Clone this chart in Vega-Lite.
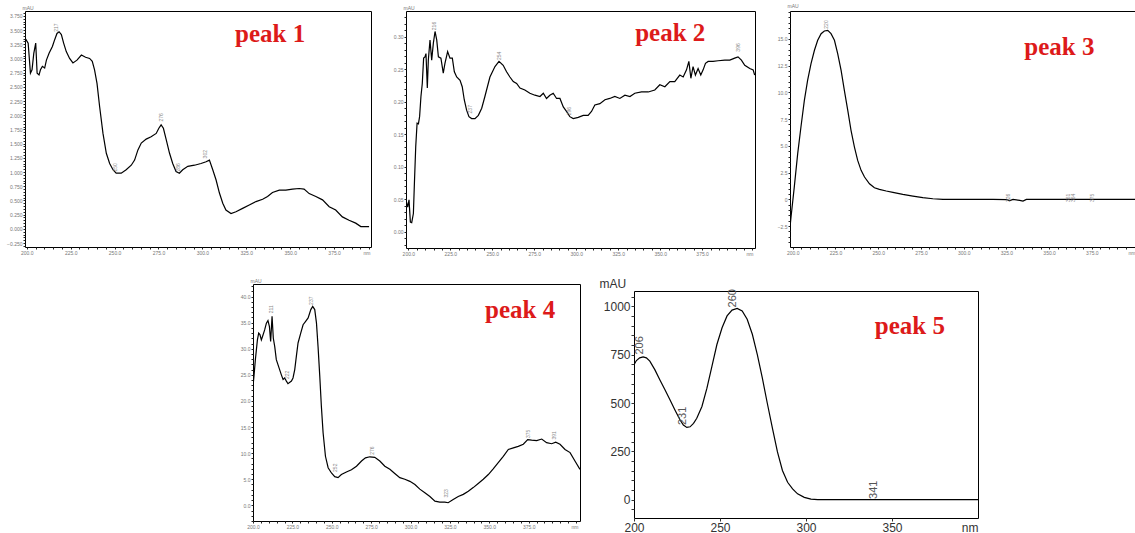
{
  "$schema": "https://vega.github.io/schema/vega-lite/v6.json",
  "background": "white",
  "padding": {"left": 6, "top": 2, "right": 0, "bottom": 0},
  "config": {
    "view": {"stroke": "black", "strokeWidth": 1},
    "axis": {"domain": false, "grid": false, "tickColor": "#222", "labelColor": "#777", "titleColor": "#777", "labelFont": "Liberation Sans", "titleFont": "Liberation Sans", "titleFontWeight": "normal", "labelOverlap": false, "labelBound": false, "labelFlush": false, "labelFontSize": 5, "titleFontSize": 5, "tickSize": 2, "labelPadding": 1}
  },
  "datasets": {
    "p1": [
      {"nm":199.4,"v":3.34},{"nm":200.8,"v":3.27},{"nm":202.1,"v":2.74},{"nm":203,"v":2.8},{"nm":204,"v":3.09},{"nm":205.1,"v":3.27},{"nm":205.9,"v":2.74},{"nm":207,"v":2.71},{"nm":207.8,"v":2.8},{"nm":208.9,"v":2.86},{"nm":210.2,"v":2.83},{"nm":211.2,"v":2.97},{"nm":212.7,"v":3.09},{"nm":214.6,"v":3.21},{"nm":215.9,"v":3.33},{"nm":217.2,"v":3.44},{"nm":218.4,"v":3.47},{"nm":219.7,"v":3.42},{"nm":221,"v":3.27},{"nm":222.5,"v":3.12},{"nm":224.4,"v":3.0},{"nm":226.3,"v":2.92},{"nm":228.6,"v":2.97},{"nm":231.1,"v":3.06},{"nm":233.5,"v":3.02},{"nm":235.8,"v":3.0},{"nm":237.3,"v":2.95},{"nm":238.6,"v":2.8},{"nm":240,"v":2.56},{"nm":241.5,"v":2.15},{"nm":243.4,"v":1.68},{"nm":245.3,"v":1.33},{"nm":247.2,"v":1.15},{"nm":249.1,"v":1.04},{"nm":250.9,"v":0.98},{"nm":253.8,"v":0.98},{"nm":256.6,"v":1.04},{"nm":259.5,"v":1.12},{"nm":261.4,"v":1.21},{"nm":263.3,"v":1.39},{"nm":265.2,"v":1.51},{"nm":268,"v":1.58},{"nm":270.8,"v":1.62},{"nm":273.7,"v":1.68},{"nm":275.2,"v":1.77},{"nm":276.5,"v":1.83},{"nm":277.8,"v":1.77},{"nm":279.4,"v":1.57},{"nm":281.3,"v":1.33},{"nm":283.1,"v":1.15},{"nm":285,"v":1.01},{"nm":286.9,"v":0.98},{"nm":288.8,"v":1.04},{"nm":291.7,"v":1.1},{"nm":295.5,"v":1.12},{"nm":299.2,"v":1.15},{"nm":302.1,"v":1.18},{"nm":304,"v":1.21},{"nm":305.9,"v":1.04},{"nm":307.8,"v":0.86},{"nm":309.7,"v":0.63},{"nm":311.6,"v":0.45},{"nm":313.4,"v":0.33},{"nm":316.3,"v":0.27},{"nm":319.1,"v":0.3},{"nm":322.9,"v":0.36},{"nm":326.7,"v":0.42},{"nm":330.5,"v":0.48},{"nm":334.3,"v":0.52},{"nm":337.1,"v":0.57},{"nm":339.9,"v":0.64},{"nm":343.8,"v":0.68},{"nm":347.5,"v":0.68},{"nm":351.3,"v":0.7},{"nm":355.1,"v":0.71},{"nm":357.9,"v":0.7},{"nm":360.8,"v":0.62},{"nm":364.6,"v":0.57},{"nm":368.4,"v":0.51},{"nm":372.2,"v":0.39},{"nm":375.9,"v":0.33},{"nm":379.7,"v":0.21},{"nm":383.5,"v":0.15},{"nm":387.3,"v":0.1},{"nm":390.2,"v":0.04},{"nm":394.9,"v":0.04}
    ],
    "a1": [{"nm":216.9,"v":3.47,"lab":"217"},{"nm":250.4,"v":1.01,"lab":"250"},{"nm":276.2,"v":1.89,"lab":"276"},{"nm":286.0,"v":1.01,"lab":"286"},{"nm":301.7,"v":1.24,"lab":"302"}],
    "p2": [
      {"nm":198.6,"v":0.049},{"nm":199.6,"v":0.038},{"nm":200.4,"v":0.049},{"nm":201.2,"v":0.015},{"nm":202,"v":0.014},{"nm":203,"v":0.028},{"nm":203.6,"v":0.074},{"nm":204.4,"v":0.131},{"nm":205.2,"v":0.167},{"nm":206,"v":0.166},{"nm":206.7,"v":0.177},{"nm":207.5,"v":0.208},{"nm":208.3,"v":0.228},{"nm":209.1,"v":0.267},{"nm":209.9,"v":0.269},{"nm":210.5,"v":0.274},{"nm":211.3,"v":0.221},{"nm":211.9,"v":0.264},{"nm":212.9,"v":0.295},{"nm":213.9,"v":0.264},{"nm":214.9,"v":0.29},{"nm":215.9,"v":0.308},{"nm":216.9,"v":0.295},{"nm":217.9,"v":0.269},{"nm":219.4,"v":0.267},{"nm":220.8,"v":0.244},{"nm":221.8,"v":0.259},{"nm":223.4,"v":0.277},{"nm":224.8,"v":0.267},{"nm":226.2,"v":0.267},{"nm":227.4,"v":0.246},{"nm":228.8,"v":0.238},{"nm":230.8,"v":0.233},{"nm":232.1,"v":0.223},{"nm":233.3,"v":0.203},{"nm":234.7,"v":0.187},{"nm":236.1,"v":0.177},{"nm":237.7,"v":0.174},{"nm":239.7,"v":0.174},{"nm":241.7,"v":0.179},{"nm":243.7,"v":0.19},{"nm":245.6,"v":0.208},{"nm":248.6,"v":0.238},{"nm":251.6,"v":0.254},{"nm":254,"v":0.262},{"nm":256.5,"v":0.256},{"nm":258.5,"v":0.246},{"nm":260.5,"v":0.238},{"nm":262.5,"v":0.231},{"nm":264.5,"v":0.228},{"nm":266.5,"v":0.221},{"nm":269.4,"v":0.218},{"nm":272.4,"v":0.213},{"nm":275.4,"v":0.21},{"nm":278.4,"v":0.208},{"nm":280.4,"v":0.213},{"nm":282.3,"v":0.205},{"nm":284.3,"v":0.21},{"nm":286.3,"v":0.213},{"nm":288.3,"v":0.205},{"nm":290.3,"v":0.205},{"nm":292.3,"v":0.192},{"nm":294.2,"v":0.185},{"nm":296.2,"v":0.177},{"nm":298.2,"v":0.174},{"nm":301.2,"v":0.176},{"nm":304.2,"v":0.179},{"nm":307.1,"v":0.179},{"nm":309.1,"v":0.185},{"nm":311.1,"v":0.195},{"nm":314.1,"v":0.197},{"nm":317.1,"v":0.203},{"nm":320,"v":0.205},{"nm":323,"v":0.208},{"nm":326,"v":0.205},{"nm":329,"v":0.21},{"nm":332,"v":0.208},{"nm":334.9,"v":0.213},{"nm":338.9,"v":0.215},{"nm":342.9,"v":0.215},{"nm":346.8,"v":0.218},{"nm":349.8,"v":0.226},{"nm":352.8,"v":0.223},{"nm":355.8,"v":0.231},{"nm":358.7,"v":0.231},{"nm":361.7,"v":0.241},{"nm":363.7,"v":0.238},{"nm":365.7,"v":0.249},{"nm":367.1,"v":0.262},{"nm":368.3,"v":0.236},{"nm":369.6,"v":0.254},{"nm":371,"v":0.241},{"nm":372.6,"v":0.251},{"nm":374.2,"v":0.241},{"nm":375.6,"v":0.249},{"nm":377,"v":0.259},{"nm":378.6,"v":0.262},{"nm":381.5,"v":0.262},{"nm":384.5,"v":0.263},{"nm":388.5,"v":0.264},{"nm":391.5,"v":0.264},{"nm":394.4,"v":0.267},{"nm":396.4,"v":0.269},{"nm":398.4,"v":0.264},{"nm":400.4,"v":0.256},{"nm":403.4,"v":0.251},{"nm":405.4,"v":0.249},{"nm":406.3,"v":0.241}
    ],
    "a2": [{"nm":215.5,"v":0.31,"lab":"216"},{"nm":254,"v":0.264,"lab":"254"},{"nm":236.7,"v":0.182,"lab":"237"},{"nm":295.8,"v":0.179,"lab":"296"},{"nm":396.4,"v":0.277,"lab":"396"}],
    "p3": [
      {"nm":198.4,"v":-2.59},{"nm":199,"v":-1.65},{"nm":200.9,"v":1.15},{"nm":202.9,"v":4.27},{"nm":204.8,"v":6.76},{"nm":206.8,"v":9.25},{"nm":208.7,"v":11.12},{"nm":210.7,"v":12.68},{"nm":212.7,"v":13.93},{"nm":214.6,"v":14.86},{"nm":216.6,"v":15.48},{"nm":218.5,"v":15.73},{"nm":220.5,"v":15.79},{"nm":222.4,"v":15.48},{"nm":224.4,"v":14.86},{"nm":226.3,"v":13.61},{"nm":228.3,"v":12.06},{"nm":230.2,"v":10.19},{"nm":232.2,"v":8.32},{"nm":234.1,"v":6.45},{"nm":236.1,"v":4.89},{"nm":238,"v":3.64},{"nm":240,"v":2.71},{"nm":242,"v":2.09},{"nm":244.9,"v":1.46},{"nm":247.8,"v":1.09},{"nm":250.7,"v":0.93},{"nm":254.7,"v":0.78},{"nm":258.6,"v":0.65},{"nm":264.4,"v":0.47},{"nm":270.3,"v":0.31},{"nm":276.1,"v":0.16},{"nm":282,"v":0.06},{"nm":287.9,"v":0.0},{"nm":297.6,"v":0.0},{"nm":317.2,"v":0.0},{"nm":325,"v":-0.03},{"nm":327,"v":-0.12},{"nm":328.9,"v":0.0},{"nm":332.8,"v":-0.09},{"nm":334.7,"v":-0.16},{"nm":336.7,"v":0.0},{"nm":346.4,"v":0.0},{"nm":375.7,"v":0.0},{"nm":402,"v":0.0}
    ],
    "a3": [{"nm":219.5,"v":15.95,"lab":"220"},{"nm":326,"v":-0.25,"lab":"326"},{"nm":361,"v":-0.25,"lab":"361"},{"nm":364,"v":-0.25,"lab":"364"},{"nm":374.8,"v":-0.25,"lab":"375"}],
    "p4": [
      {"nm":200,"v":22.8},{"nm":200.6,"v":24.7},{"nm":201.5,"v":27.9},{"nm":202.8,"v":31.7},{"nm":203.6,"v":33.0},{"nm":204.4,"v":32.7},{"nm":205.3,"v":31.7},{"nm":206.1,"v":32.4},{"nm":207.4,"v":33.6},{"nm":208.5,"v":34.9},{"nm":209.5,"v":35.4},{"nm":210.4,"v":34.3},{"nm":211.2,"v":31.4},{"nm":212.1,"v":36.2},{"nm":212.9,"v":32.0},{"nm":213.8,"v":30.4},{"nm":214.8,"v":27.9},{"nm":215.9,"v":26.9},{"nm":216.9,"v":26.0},{"nm":218,"v":25.0},{"nm":219.1,"v":24.1},{"nm":220.1,"v":24.4},{"nm":221.2,"v":23.8},{"nm":222.2,"v":23.3},{"nm":224.4,"v":23.8},{"nm":225.4,"v":24.4},{"nm":226.5,"v":26.0},{"nm":227.5,"v":28.5},{"nm":228.6,"v":31.1},{"nm":230.3,"v":33.0},{"nm":231.8,"v":34.6},{"nm":233.3,"v":35.2},{"nm":235,"v":35.9},{"nm":236.7,"v":37.5},{"nm":237.9,"v":38.1},{"nm":239.2,"v":37.5},{"nm":240.3,"v":34.9},{"nm":241.3,"v":30.4},{"nm":242.4,"v":24.7},{"nm":243.4,"v":19.0},{"nm":244.5,"v":13.9},{"nm":246,"v":9.4},{"nm":247.7,"v":7.2},{"nm":249.8,"v":6.2},{"nm":251.9,"v":5.5},{"nm":254,"v":5.3},{"nm":256.1,"v":5.9},{"nm":259.3,"v":6.4},{"nm":262.5,"v":6.8},{"nm":265.7,"v":7.5},{"nm":268.9,"v":8.5},{"nm":271.4,"v":9.1},{"nm":274.2,"v":9.3},{"nm":277.3,"v":9.2},{"nm":280.5,"v":8.5},{"nm":283.7,"v":7.5},{"nm":286.9,"v":6.9},{"nm":290,"v":6.1},{"nm":293.2,"v":5.3},{"nm":296.4,"v":5.0},{"nm":299.6,"v":4.6},{"nm":302.8,"v":4.0},{"nm":305.9,"v":3.1},{"nm":309.1,"v":2.4},{"nm":312.3,"v":1.7},{"nm":315.5,"v":0.8},{"nm":318.6,"v":0.6},{"nm":321.8,"v":0.6},{"nm":323.9,"v":0.5},{"nm":327.1,"v":1.1},{"nm":330.3,"v":1.7},{"nm":333.5,"v":2.1},{"nm":336.7,"v":2.7},{"nm":339.8,"v":3.4},{"nm":343,"v":4.2},{"nm":346.2,"v":5.0},{"nm":349.4,"v":5.9},{"nm":352.5,"v":7.0},{"nm":355.7,"v":8.2},{"nm":358.9,"v":9.4},{"nm":362.1,"v":10.7},{"nm":365.3,"v":11.0},{"nm":368.4,"v":11.3},{"nm":371.6,"v":11.7},{"nm":374.4,"v":12.6},{"nm":376.9,"v":12.5},{"nm":380.1,"v":12.4},{"nm":383.3,"v":12.7},{"nm":386.4,"v":12.0},{"nm":389.6,"v":11.8},{"nm":392.2,"v":12.1},{"nm":394.9,"v":11.7},{"nm":398.1,"v":10.7},{"nm":401.3,"v":10.1},{"nm":404.4,"v":8.5},{"nm":407.6,"v":6.9}
    ],
    "a4": [{"nm":211.2,"v":36.8,"lab":"211"},{"nm":221.6,"v":24.2,"lab":"222"},{"nm":236.7,"v":38.4,"lab":"237"},{"nm":251.9,"v":6.4,"lab":"252"},{"nm":275.8,"v":9.7,"lab":"276"},{"nm":322.5,"v":1.5,"lab":"323"},{"nm":374.8,"v":12.9,"lab":"375"},{"nm":391.3,"v":12.6,"lab":"391"}],
    "p5": [
      {"nm":200,"v":699},{"nm":201.4,"v":720},{"nm":203.3,"v":734},{"nm":205.3,"v":739},{"nm":207.2,"v":734},{"nm":209.2,"v":717},{"nm":212.1,"v":673},{"nm":215,"v":621},{"nm":218,"v":569},{"nm":220.9,"v":517},{"nm":223.8,"v":464},{"nm":226.8,"v":412},{"nm":228.7,"v":386},{"nm":230.7,"v":374},{"nm":232.6,"v":377},{"nm":234.6,"v":395},{"nm":236.5,"v":421},{"nm":239.5,"v":482},{"nm":242.4,"v":577},{"nm":245.3,"v":690},{"nm":248.2,"v":803},{"nm":251.2,"v":890},{"nm":254.1,"v":951},{"nm":257,"v":981},{"nm":260,"v":990},{"nm":262.9,"v":977},{"nm":265.8,"v":934},{"nm":268.8,"v":856},{"nm":271.7,"v":751},{"nm":274.6,"v":630},{"nm":277.5,"v":499},{"nm":280.5,"v":369},{"nm":283.4,"v":247},{"nm":286.3,"v":151},{"nm":289.3,"v":90},{"nm":292.2,"v":56},{"nm":295.1,"v":30},{"nm":299,"v":12},{"nm":302.9,"v":3},{"nm":306.8,"v":0},{"nm":400,"v":0}
    ],
    "a5": [{"nm":203.5,"v":751,"lab":"206"},{"nm":228.7,"v":386,"lab":"231"},{"nm":257.6,"v":995,"lab":"260"},{"nm":339.6,"v":3.5,"lab":"341"}]
  },
  "spacing": 19,
  "vconcat": [
    {
      "hconcat": [
        {
          "width": 346, "height": 236,
          "layer": [
            {"data": {"name": "p1"}, "mark": {"type": "line", "color": "black", "strokeWidth": 1.2, "clip": true},
              "encoding": {
                "x": {"field": "nm", "type": "quantitative", "scale": {"domain": [199, 396], "nice": false, "zero": false},
                  "axis": {"tickCount": 40, "labelExpr": "round(datum.value) % 25 == 0 && datum.value < 390 ? format(datum.value, '.1f') : ''", "title": "nm", "titleX": 345, "titleY": 3, "titleAlign": "right", "titleBaseline": "top"}},
                "y": {"field": "v", "type": "quantitative", "scale": {"domain": [-0.32, 3.835], "nice": false, "zero": false},
                  "axis": {"tickCount": 82, "labelExpr": "round(datum.value*100) % 25 == 0 ? format(datum.value, '.3f') : ''", "title": "mAU", "titleAngle": 0, "titleX": -3, "titleY": -1, "titleAlign": "left", "titleBaseline": "bottom"}}
              }},
            {"data": {"name": "a1"}, "mark": {"type": "text", "angle": -90, "align": "left", "baseline": "middle", "fontSize": 5, "color": "#888", "font": "Liberation Sans"},
              "encoding": {"x": {"field": "nm", "type": "quantitative"}, "y": {"field": "v", "type": "quantitative"}, "text": {"field": "lab"}}},
            {"data": {"values": [{"t": "peak 1"}]}, "mark": {"type": "text", "font": "Liberation Serif", "fontWeight": "bold", "fontSize": 25, "color": "#dd1a1a", "align": "left", "baseline": "alphabetic"},
              "encoding": {"x": {"datum": 318.6}, "y": {"datum": 3.298}, "text": {"field": "t"}}}
          ]
        },
        {
          "width": 349, "height": 237,
          "layer": [
            {"data": {"name": "p2"}, "mark": {"type": "line", "color": "black", "strokeWidth": 1.2, "clip": true},
              "encoding": {
                "x": {"field": "nm", "type": "quantitative", "scale": {"domain": [198.6, 406.5], "nice": false, "zero": false},
                  "axis": {"tickCount": 40, "labelExpr": "round(datum.value) % 25 == 0 && datum.value < 390 ? format(datum.value, '.1f') : ''", "title": "nm", "titleX": 347, "titleY": 3, "titleAlign": "right", "titleBaseline": "top"}},
                "y": {"field": "v", "type": "quantitative", "scale": {"domain": [-0.025, 0.3395], "nice": false, "zero": false},
                  "axis": {"tickCount": 36, "labelExpr": "round(datum.value*100) % 5 == 0 ? format(datum.value, '.2f') : ''", "title": "mAU", "titleAngle": 0, "titleX": -3, "titleY": -1, "titleAlign": "left", "titleBaseline": "bottom"}}
              }},
            {"data": {"name": "a2"}, "mark": {"type": "text", "angle": -90, "align": "left", "baseline": "middle", "fontSize": 5, "color": "#888", "font": "Liberation Sans"},
              "encoding": {"x": {"field": "nm", "type": "quantitative"}, "y": {"field": "v", "type": "quantitative"}, "text": {"field": "lab"}}},
            {"data": {"values": [{"t": "peak 2"}]}, "mark": {"type": "text", "font": "Liberation Serif", "fontWeight": "bold", "fontSize": 25, "color": "#dd1a1a", "align": "left", "baseline": "alphabetic"},
              "encoding": {"x": {"datum": 335.1}, "y": {"datum": 0.2934}, "text": {"field": "t"}}}
          ]
        },
        {
          "width": 348, "height": 236,
          "layer": [
            {"data": {"name": "p3"}, "mark": {"type": "line", "color": "black", "strokeWidth": 1.2, "clip": true},
              "encoding": {
                "x": {"field": "nm", "type": "quantitative", "scale": {"domain": [198.4, 402], "nice": false, "zero": false},
                  "axis": {"tickCount": 40, "labelExpr": "round(datum.value) % 25 == 0 && datum.value < 390 ? format(datum.value, '.1f') : ''", "title": "nm", "titleX": 345, "titleY": 3, "titleAlign": "right", "titleBaseline": "top"}},
                "y": {"field": "v", "type": "quantitative", "scale": {"domain": [-4.45, 17.6], "nice": false, "zero": false},
                  "axis": {"tickCount": 44, "labelExpr": "round(datum.value*10) % 25 == 0 && datum.value < 17 ? (round(datum.value*10) == 0 ? '0' : format(datum.value, '.1f')) : ''", "title": "mAU", "titleAngle": 0, "titleX": -3, "titleY": -3, "titleAlign": "left", "titleBaseline": "bottom"}}
              }},
            {"data": {"name": "a3"}, "mark": {"type": "text", "angle": -90, "align": "left", "baseline": "middle", "fontSize": 5, "color": "#888", "font": "Liberation Sans"},
              "encoding": {"x": {"field": "nm", "type": "quantitative"}, "y": {"field": "v", "type": "quantitative"}, "text": {"field": "lab"}}},
            {"data": {"values": [{"t": "peak 3"}]}, "mark": {"type": "text", "font": "Liberation Serif", "fontWeight": "bold", "fontSize": 25, "color": "#dd1a1a", "align": "left", "baseline": "alphabetic"},
              "encoding": {"x": {"datum": 335.5}, "y": {"datum": 13.53}, "text": {"field": "t"}}}
          ]
        }
      ],
      "spacing": 35, "bounds": "flush"
    },
    {
      "hconcat": [
        {"width": 174, "height": 10, "view": {"stroke": null, "fill": "white"}, "data": {"values": []}, "mark": {"type": "point", "opacity": 0}, "encoding": {}},
        {
          "width": 327, "height": 237,
          "layer": [
            {"data": {"name": "p4"}, "mark": {"type": "line", "color": "black", "strokeWidth": 1.2, "clip": true},
              "encoding": {
                "x": {"field": "nm", "type": "quantitative", "scale": {"domain": [200, 407.6], "nice": false, "zero": false},
                  "axis": {"tickCount": 40, "labelExpr": "round(datum.value) % 25 == 0 && datum.value < 390 ? format(datum.value, '.1f') : ''", "title": "nm", "titleX": 325, "titleY": 3, "titleAlign": "right", "titleBaseline": "top"}},
                "y": {"field": "v", "type": "quantitative", "scale": {"domain": [-3, 42.4], "nice": false, "zero": false},
                  "axis": {"tickCount": 45, "labelExpr": "round(datum.value) % 5 == 0 ? format(datum.value, '.1f') : ''", "title": "mAU", "titleAngle": 0, "titleX": -3, "titleY": -1, "titleAlign": "left", "titleBaseline": "bottom"}}
              }},
            {"data": {"name": "a4"}, "mark": {"type": "text", "angle": -90, "align": "left", "baseline": "middle", "fontSize": 5, "color": "#888", "font": "Liberation Sans"},
              "encoding": {"x": {"field": "nm", "type": "quantitative"}, "y": {"field": "v", "type": "quantitative"}, "text": {"field": "lab"}}},
            {"data": {"values": [{"t": "peak 4"}]}, "mark": {"type": "text", "font": "Liberation Serif", "fontWeight": "bold", "fontSize": 25, "color": "#dd1a1a", "align": "left", "baseline": "alphabetic"},
              "encoding": {"x": {"datum": 347.3}, "y": {"datum": 35.8}, "text": {"field": "t"}}}
          ]
        },
        {
          "vconcat": [
            {"width": 10, "height": 1, "view": {"stroke": null}, "data": {"values": []}, "mark": {"type": "point", "opacity": 0}, "encoding": {}},
            {
              "width": 344, "height": 227,
              "layer": [
                {"data": {"name": "p5"}, "mark": {"type": "line", "color": "black", "strokeWidth": 1.2, "clip": true},
                  "encoding": {
                    "x": {"field": "nm", "type": "quantitative", "scale": {"domain": [200, 400], "nice": false, "zero": false},
                      "axis": {"values": [200, 250, 300, 350], "format": "d", "title": "nm", "titleX": 344, "titleY": 4, "titleAlign": "right", "titleBaseline": "top", "tickSize": 3, "labelPadding": 1, "labelFontSize": 12, "titleFontSize": 12, "labelColor": "#333", "titleColor": "#333", "tickColor": "#333"}},
                    "y": {"field": "v", "type": "quantitative", "scale": {"domain": [-95, 1080], "nice": false, "zero": false},
                      "axis": {"tickCount": 24, "labelExpr": "round(datum.value) % 250 == 0 ? format(datum.value, 'd') : ''", "title": "mAU", "titleAngle": 0, "titleX": -35, "titleY": -1, "titleAlign": "left", "titleBaseline": "bottom", "tickSize": 3, "labelPadding": 1, "labelFontSize": 12, "titleFontSize": 12, "labelColor": "#333", "titleColor": "#333", "tickColor": "#333"}}
                  }},
                {"data": {"name": "a5"}, "mark": {"type": "text", "angle": -90, "align": "left", "baseline": "middle", "fontSize": 11, "color": "#555", "font": "Liberation Sans"},
                  "encoding": {"x": {"field": "nm", "type": "quantitative"}, "y": {"field": "v", "type": "quantitative"}, "text": {"field": "lab"}}},
                {"data": {"values": [{"t": "peak 5"}]}, "mark": {"type": "text", "font": "Liberation Serif", "fontWeight": "bold", "fontSize": 25, "color": "#dd1a1a", "align": "left", "baseline": "alphabetic"},
                  "encoding": {"x": {"datum": 340}, "y": {"datum": 857}, "text": {"field": "t"}}}
              ]
            }
          ],
          "spacing": 6, "bounds": "flush"
        }
      ],
      "spacing": 54, "bounds": "flush"
    }
  ]
}
